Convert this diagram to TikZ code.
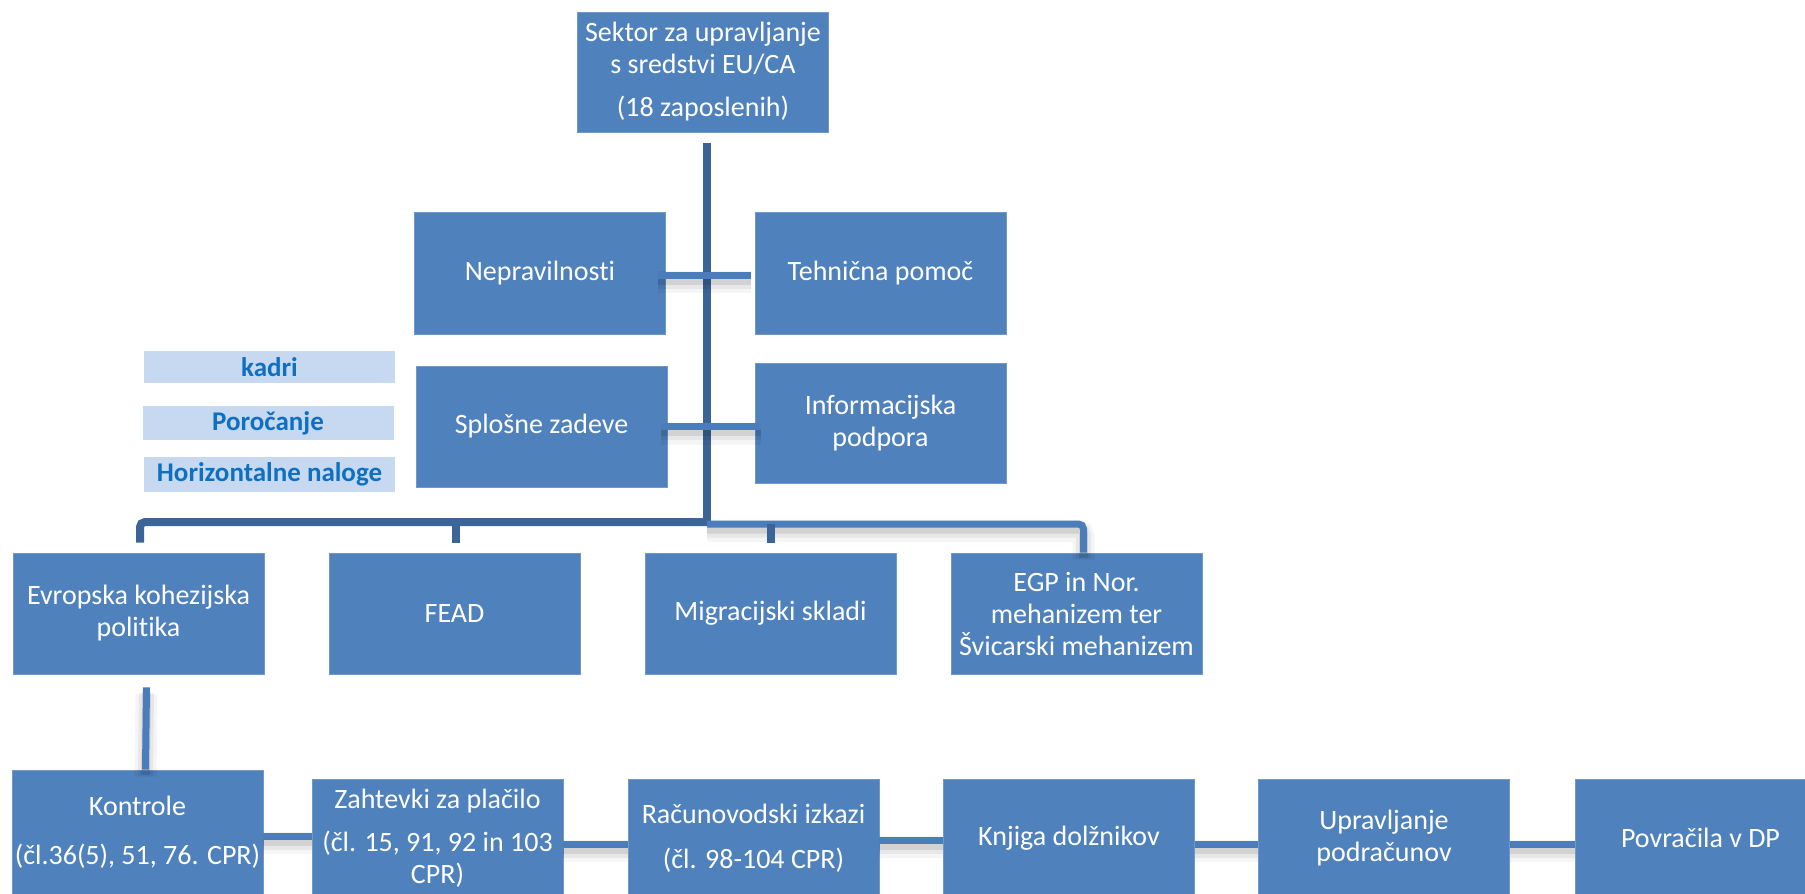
\documentclass[tikz,border=0pt]{standalone}
\usepackage{fontspec}
\setmainfont{Carlito}[Ligatures=NoCommon]
\definecolor{boxblue}{HTML}{4F81BD}
\definecolor{boxedge}{HTML}{7098C9}
\definecolor{trunkblue}{HTML}{3B6597}
\definecolor{linkblue}{HTML}{4A7DBA}
\definecolor{tagfill}{HTML}{C6D9F1}
\definecolor{tagtext}{HTML}{0F6FC0}
\begin{document}
\begin{tikzpicture}[x=1pt,y=-1pt,
  box/.style={draw=boxedge, line width=0.8pt, fill=boxblue, text=white, align=center,
    inner sep=0pt, minimum width=251pt, minimum height=120pt,
    font=\fontsize{28}{32}\selectfont},
  tag/.style={fill=tagfill, text=tagtext, inner sep=0pt, minimum width=251pt,
    font=\fontsize{27}{32}\selectfont\bfseries},
  soft/.style={
    preaction={draw=black, draw opacity=0.04, line width=22pt, transform canvas={yshift=-7pt}},
    preaction={draw=black, draw opacity=0.06, line width=15pt, transform canvas={yshift=-6pt}},
    preaction={draw=black, draw opacity=0.09, line width=9pt, transform canvas={yshift=-5pt}}},
  trunk/.style={draw=trunkblue, line width=8pt},
  link/.style={soft, draw=linkblue, line width=7pt}
]
\useasboundingbox (0,0) rectangle (1805,894);
\clip (0,0) rectangle (1805,894);

% head of the sector
\node[box] (top) at (703,72) {Sektor za upravljanje\\ s sredstvi EU/CA\\[11pt](18 zaposlenih)};

% staff units beside the trunk
\node[box, minimum height=122pt] (nepr) at (540,273) {Nepravilnosti};
\node[box, minimum height=122pt] (tehn) at (880.5,273) {Tehnična pomoč};
\node[box, minimum height=121pt] (splo) at (541.5,426.5) {Splošne zadeve};
\node[box] (info) at (880.5,423) {Informacijska\\ podpora};

% tasks of general affairs
\node[tag, minimum height=32pt] (kadri) at (269.5,367) {kadri};
\node[tag, minimum height=34pt] (poro) at (268,423) {Poročanje};
\node[tag, minimum height=35pt] (horiz) at (269.5,474.5) {Horizontalne naloge};

% funds
\node[box, minimum height=121pt] (evro) at (138.5,613.5) {Evropska kohezijska\\ politika};
\node[box, minimum height=121pt] (fead) at (454.5,613.5) {FEAD};
\node[box, minimum height=121pt] (migr) at (770.5,613.5) {Migracijski skladi};
\node[box, minimum height=121pt] (egp) at (1076.5,613.5) {EGP in Nor.\\ mehanizem ter\\ Švicarski mehanizem};

% process chain of the cohesion policy
\node[box, minimum height=124pt] (kontr) at (137.5,832) {Kontrole\\[17pt](čl.36(5), 51, 76. CPR)};
\node[box, minimum height=118pt] (zaht) at (437.5,838) {Zahtevki za plačilo\\[11pt](čl. 15, 91, 92 in 103\\ CPR)};
\node[box, minimum height=118pt] (racu) at (753.5,838) {Računovodski izkazi\\[13pt](čl. 98-104 CPR)};
\node[box, minimum height=118pt] (knji) at (1069,838) {Knjiga dolžnikov};
\node[box, minimum height=118pt] (uprav) at (1384,838) {Upravljanje\\ podračunov};
\node[box, minimum height=118pt] (povr) at (1700.5,838) {Povračila v DP};

% trunk and bus
\coordinate (bus) at (707,522);
\draw[trunk] ([xshift=4pt,yshift=-11pt]top.south) -- (bus);
\draw[trunk, rounded corners=5pt] ([xshift=1.5pt,yshift=10pt]evro.north) |- (bus);
\draw[trunk] ([xshift=1.5pt,yshift=10pt]fead.north) -- ([xshift=1.5pt]fead.north |- bus);
\draw[link, rounded corners=5pt] ([yshift=-2pt]bus) -| ([xshift=7pt]egp.north);
\draw[trunk] ([yshift=10pt]migr.north) -- ([yshift=-2pt]migr.north |- bus);

% side links
\draw[link] ([xshift=-8pt,yshift=-2pt]nepr.east) -- ([xshift=-4pt,yshift=-2pt]tehn.west);
\draw[link] ([xshift=-6pt]splo.east) -- ([xshift=6pt]splo.east -| info.west);

% chain links
\draw[link] ([xshift=8pt,yshift=-13pt]evro.south) -- ([xshift=8pt]kontr.north);
\draw[link] ([yshift=-4pt]kontr.east) -- ([yshift=-4pt]kontr.east -| zaht.west);
\draw[link] ([yshift=-6pt]zaht.east) -- ([yshift=-6pt]racu.west);
\draw[link] ([yshift=-2pt]racu.east) -- ([yshift=-2pt]knji.west);
\draw[link] ([yshift=-6pt]knji.east) -- ([yshift=-6pt]uprav.west);
\draw[link] ([yshift=-6pt]uprav.east) -- ([yshift=-6pt]povr.west);
\end{tikzpicture}
\end{document}
